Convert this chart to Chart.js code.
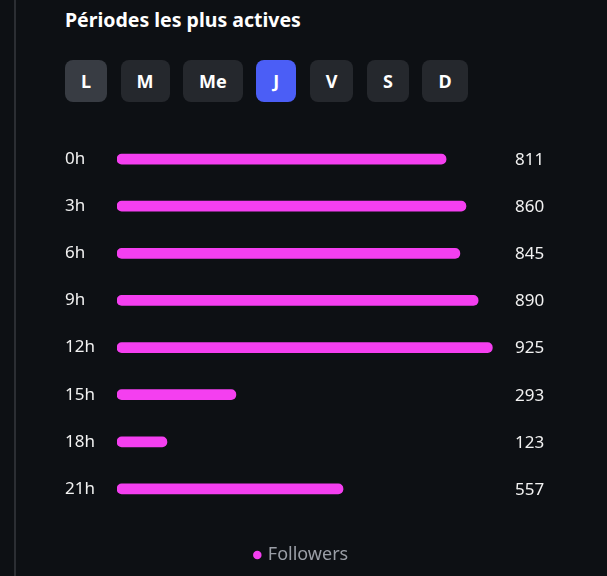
<!DOCTYPE html>
<html lang="fr">
<head>
<meta charset="utf-8">
<title>Périodes les plus actives</title>
<script src="https://cdn.jsdelivr.net/npm/chart.js@4.4.1/dist/chart.umd.min.js"></script>
<style>
  html, body {
    margin: 0;
    padding: 0;
    width: 607px;
    height: 576px;
    overflow: hidden;
    background: #0d1014;
    font-family: "Noto Sans", sans-serif;
  }
  .edge {
    position: absolute;
    left: 14px;
    top: 0;
    width: 2px;
    height: 576px;
    background: #2b2e33;
  }
  h2 {
    position: absolute;
    left: 65px;
    top: 6px;
    margin: 0;
    color: #ffffff;
    font-size: 19.5px;
    font-weight: 700;
  }
  .days {
    position: absolute;
    left: 65px;
    top: 60px;
    display: flex;
    gap: 13.5px;
  }
  .days button {
    height: 42px;
    min-width: 40px;
    padding: 0 16px;
    border: none;
    border-radius: 8px;
    background: #25282d;
    color: #ffffff;
    font-family: "Noto Sans", sans-serif;
    font-size: 18px;
    font-weight: 700;
  }
  .days button.first { background: #383c43; }
  .days button.active { background: #4b5ef6; }
  .wrap {
    position: absolute;
    left: 65px;
    top: 120px;
    width: 542px;
    height: 456px;
  }
</style>
</head>
<body>
<div class="edge"></div>
<h2>Périodes les plus actives</h2>
<div class="days" id="days"></div>
<div class="wrap"><canvas id="barChart"></canvas></div>

<script>
// Jours de la semaine (J = jour affiché)
const days = ['L', 'M', 'Me', 'J', 'V', 'S', 'D'];
const activeDay = 'J';

// Tranches horaires et nombre de followers actifs
const hours = ['0h', '3h', '6h', '9h', '12h', '15h', '18h', '21h'];
const followers = [811, 860, 845, 890, 925, 293, 123, 557];

const barColor = '#f43ff0';

// Boutons des jours
const daysBox = document.getElementById('days');
days.forEach((d, i) => {
  const b = document.createElement('button');
  b.textContent = d;
  if (i === 0) b.className = 'first';
  if (d === activeDay) b.className = 'active';
  daysBox.appendChild(b);
});

// Valeurs affichées à droite des barres
const valueLabels = {
  id: 'valueLabels',
  afterDatasetsDraw(chart) {
    const { ctx, chartArea } = chart;
    const meta = chart.getDatasetMeta(0);
    ctx.save();
    ctx.font = '17px "Noto Sans", sans-serif';
    ctx.fillStyle = '#f2f2f2';
    ctx.textAlign = 'left';
    ctx.textBaseline = 'middle';
    meta.data.forEach((bar, i) => {
      ctx.fillText(String(chart.data.datasets[0].data[i]), chartArea.right - 24, bar.y + 1);
    });
    ctx.restore();
  },
};

const ctx = document.getElementById('barChart').getContext('2d');
new Chart(ctx, {
  type: 'bar',
  data: {
    labels: hours,
    datasets: [
      {
        label: 'Followers',
        data: followers,
        backgroundColor: barColor,
        borderRadius: 5,
        borderSkipped: false,
        barThickness: 10,
      },
    ],
  },
  options: {
    indexAxis: 'y',
    responsive: true,
    maintainAspectRatio: false,
    animation: false,
    layout: {
      padding: { left: 0, right: 68, top: 15.5, bottom: 2 },
    },
    scales: {
      x: {
        display: false,
        min: 0,
        max: 1040,
      },
      y: {
        grid: { display: false },
        border: { display: false },
        afterFit(scale) {
          scale.width = 52;
        },
        ticks: {
          crossAlign: 'far',
          color: '#f2f2f2',
          font: { family: '"Noto Sans", sans-serif', size: 17 },
        },
      },
    },
    plugins: {
      tooltip: { enabled: false },
      legend: {
        position: 'bottom',
        labels: {
          usePointStyle: true,
          pointStyle: 'circle',
          boxWidth: 3,
          boxHeight: 6,
          color: '#9a9ea6',
          padding: 33.5,
          font: { family: '"Noto Sans", sans-serif', size: 18 },
        },
      },
    },
  },
  plugins: [valueLabels],
});
</script>
</body>
</html>
